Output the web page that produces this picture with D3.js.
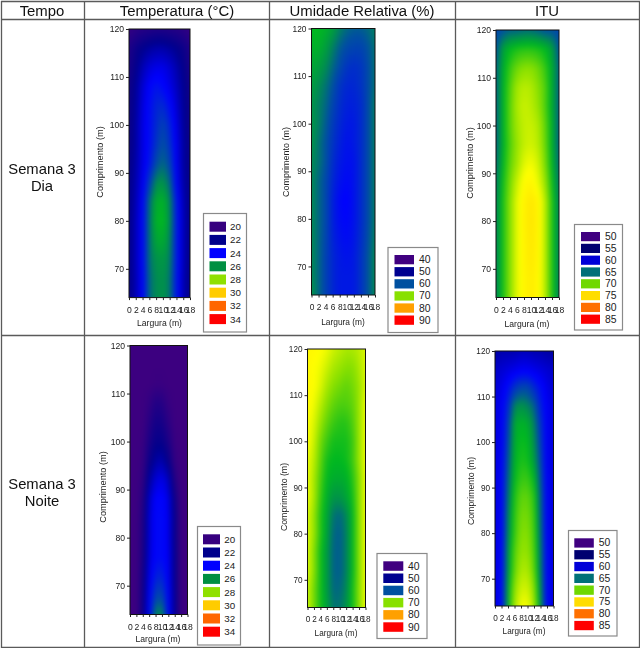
<!DOCTYPE html>
<html><head><meta charset="utf-8">
<script src="https://cdn.jsdelivr.net/npm/d3@7"></script>
<style>
html,body{margin:0;padding:0;background:#fff;}
#wrap{position:relative;width:640px;height:648px;overflow:hidden;}
canvas,svg{position:absolute;left:0;top:0;}
svg{filter:blur(0.3px);}
text{font-family:"Liberation Sans",Arial,sans-serif;}
</style></head><body><div id="wrap"><canvas id="c" width="640" height="648"></canvas><svg id="s" width="640" height="648"></svg></div>
<script>
// ---------- data ----------
const headers = ["Tempo","Temperatura (°C)","Umidade Relativa (%)","ITU"];
const rowLabels = [["Semana 3","Dia"],["Semana 3","Noite"]];
const widths = [0,2,4,6,8,10,12,14,16,18];
const lengths = [120,116,112,108,104,100,96,92,88,84,80,76,72,68,64];
const lengthTicks = [70,80,90,100,110,120];
const tempLegend = [20,22,24,26,28,30,32,34];
const rhLegend = [40,50,60,70,80,90];
const ituLegend = [50,55,60,65,70,75,80,85];
const tempLegendColors = ["#36007f","#00008c","#0000ff","#008f42","#8fe000","#ffcc00","#ff6600","#ff0000"];
const rhLegendColors = ["#400080","#000090","#0050a0","#88e000","#ffa000","#ff0000"];
const ituLegendColors = ["#400080","#000070","#0000d8","#007078","#70d800","#ffdd00","#ff7000","#ff0000"];

const tempDay = [
[20.3,20.6,20.8,20.9,21,21,20.9,20.8,20.6,20.3],
[21,21.6,22,22.3,22.5,22.5,22.3,22,21.6,21],
[21.2,21.9,22.7,23.3,23.6,23.6,23.2,22.6,21.9,21.2],
[21.4,22.2,23.2,24,24.4,24.1,23.6,22.9,22.1,21.4],
[21.5,22.3,23.4,24.2,24.7,24.8,24.2,23.2,22.2,21.5],
[21.5,22.4,23.5,24.2,24.8,25.3,24.7,23.5,22.3,21.5],
[21.6,22.4,23.5,24.2,25,25.6,25,23.7,22.4,21.6],
[21.7,22.5,23.5,24.4,25.5,25.9,25.4,23.8,22.4,21.7],
[21.8,22.6,23.7,25.2,26.3,26.4,25.9,24,22.5,21.8],
[21.8,22.7,24,25.9,26.8,26.9,26.3,24.5,22.7,21.8],
[21.8,22.8,24.1,26,26.9,27,26.4,24.6,22.8,21.8],
[21.8,22.8,24.1,26,26.7,26.8,26.3,24.6,22.8,21.8],
[21.8,22.8,24.1,26,26.4,26.5,26.2,24.6,22.8,21.8],
[21.8,22.7,24,25.9,26.3,26.4,26.1,24.5,22.7,21.8],
[21.8,22.7,24,25.9,26.3,26.4,26.1,24.5,22.7,21.8]];

const rhDay = [
[65,65,64.5,63.5,62,61,60.5,60.5,61,62],
[64.5,64.5,63.5,62,60.5,59.5,59,59,60,61.5],
[64,63.5,62.5,61,59.5,58,57.5,58,59.5,61.5],
[63.5,62.5,61.5,60,58,57,57,57.8,59.5,61.5],
[63,62,61,59.2,57.5,56.5,56.5,57.3,59.5,62],
[63,62,60.5,58.5,57,56,56,57.3,59.5,62],
[63,61.5,60,58,56.5,55.5,56,57.3,59.5,62],
[62.5,61.5,60,57.5,56,55.3,55.5,57.3,59.5,62],
[62.5,61,59.5,57,55.5,54.8,55.5,57.3,59.5,62],
[62.5,61,59.5,56.5,54.8,54.3,55.5,57.3,59.5,62],
[62.5,61,59.5,56.5,55,54.6,55.5,57.3,59.5,62],
[62.5,61,59.3,56.7,55.5,55,55.7,57.5,59.7,62.2],
[62.5,61,59,57,56,55.5,56,57.8,60,62.5],
[62.5,61,59,57,56,56,56,57.8,60,62.5],
[63,61,59,57,56,56,56,57.8,60,62.5]];

const ituDay = [
[63.5,64,64.5,64.5,64.8,64.8,64.5,64,64,63.5],
[64,66.5,67.5,68,68.2,68.2,68,67.5,66.5,64],
[64.5,67,68.5,69.5,70,70,69.5,68.5,67,64.5],
[64.5,67.2,69,70.5,71,70.8,70,69,67,64.5],
[64.5,67.2,69.2,70.7,71.3,71,70.3,69,67,64.5],
[64.5,67.2,69.2,70.5,71.2,71.3,70.8,69.3,67.2,64.5],
[64.5,67.2,69,70.3,71.2,71.5,71,69.5,67.2,64.5],
[64.8,67.4,69.3,70.5,71.8,72.2,71.5,69.8,67.4,64.8],
[65.2,67.8,69.7,71.3,72.6,72.9,72,70.4,67.8,65.2],
[65.5,68,70,71.8,73,73.6,73,71,68.2,65.5],
[65.5,68,70,71.8,73.1,73.7,73,71,68.2,65.5],
[65.5,68,70,71.8,73,73.6,73,71,68.2,65.5],
[65.5,68,70,71.8,73,73.5,72.9,71,68.2,65.5],
[65.5,68,70,71.8,72.9,73.3,72.8,71,68.2,65.5],
[65.5,68,70,71.8,72.9,73.3,72.8,71,68.2,65.5]];

const tempNight = [
[20,20,20,20,20,20,20,20,20,20],
[20,20,20,20,20,20,20,20,20,20],
[20,20,20,20,20.1,20.1,20,20,20,20],
[20,20,20,20.3,20.9,20.8,20.2,20,20,20],
[20,20,20,20.7,21.4,21.3,20.6,20,20,20],
[20,20,20.1,21.1,21.8,21.8,21.1,20.1,20,20],
[20,20,20.2,21.6,22.4,22.6,21.8,20.3,20,20],
[20,20,20.4,22.3,23.3,23.6,22.9,20.8,20,20],
[20,20,20.7,23,24,24.1,23.5,21.5,20,20],
[20,20,20.9,23.2,24.1,24.2,23.6,21.8,20,20],
[20,20,21,23.2,24.1,24.2,23.6,21.8,20,20],
[20,20,21.1,23.3,24.1,24.2,23.7,21.9,20,20],
[20,20,21.3,23.5,24.6,24.7,23.8,21.9,20,20],
[20,20,21.4,23.8,25.3,25.4,24,22,20,20],
[20,20,21.5,24,26.2,26.3,24.2,22,20,20]];

const rhNight = [
[72.5,72.5,72,71.5,70.5,70,69.5,69.5,70,71],
[72.5,72,71.5,70.5,69.5,69,68.5,68.5,69.5,71],
[72.5,72,71,69.5,68.5,68,67.5,68,69,71],
[72.5,71.5,70,68.5,67.5,67,67,67.5,69,71.5],
[72,71,69,67.5,66.5,66,66,67,69,71.5],
[72,70.5,68,66.5,65.5,65.5,65.5,66.5,69,71.5],
[71.5,70,67.5,65.5,65,65,65.3,66.5,69,71.5],
[71.5,69.5,67,65,64.3,64.3,64.5,66,68.5,71.5],
[71.5,69.5,66.5,64.5,63,63,63.8,65.5,68.5,71.5],
[71,69,66,64,61.5,61,62.3,65,68.5,71.5],
[71,69,66,63.7,61,60.5,62,65,68.5,71.5],
[71,68.5,65.5,63.3,60.8,60.5,62,65,68.5,71.5],
[71,68.5,65.5,63.3,60.8,60.5,62,65,68.5,71.5],
[70.5,68,65.5,63.3,61,61,62.3,65.5,68.5,71.5],
[70.5,68,65.5,63.7,61.5,61.5,62.8,65.5,68.5,71.5]];

const ituNight = [
[56,56.5,56.5,56.5,57,57,56.5,56.5,56,56],
[57.5,58,58.5,59,59.5,59.5,59,58.5,58,57.5],
[58,59,60.5,62.5,63.5,63.5,62,60.5,59,58],
[58.5,59.5,62,65.5,66,65.5,64.5,61.5,59.5,58.5],
[58.5,59.5,63,66.8,67.3,67,65.5,62.5,59.5,58.5],
[58.5,59.5,63.5,67,67.7,67.5,66,63,59.5,58.5],
[58.5,59.8,64,67.2,68,67.8,66.5,63.5,59.5,58.5],
[58.5,60,64.5,67.5,68.5,68.5,67.5,64,59.7,58.5],
[58.5,60,65,68,69.2,69.2,68.3,64.5,59.8,58.5],
[58.5,60,65.5,68.3,69.6,69.6,68.6,64.7,59.8,58.5],
[58.5,60,65.8,68.5,69.9,69.9,68.8,65,59.8,58.5],
[58.5,60.2,66.3,69,70.2,70.2,69,65.3,60,58.5],
[58.5,60.3,66.5,69.3,70.7,70.7,69.3,65.5,60,58.5],
[58.5,60.5,67,70,71.4,71.4,70,66,60,58.5],
[58.5,60.5,67.3,70.5,72.2,72.2,70.5,66.5,60,58.5]];

// ---------- colour ramp (shared, position in the legend's range) ----------
const rampStops = [0,.143,.286,.4,.45,.5,.571,.64,.714,.857,1];
const rampColors = ["#3c0080","#00008c","#0000ff","#0050a0","#008c50","#00b820","#88e000","#ffff00","#ffcc00","#ff6600","#ff0000"];
const ramp = d3.scaleLinear().domain(rampStops).range(rampColors).interpolate(d3.interpolateRgb).clamp(true);

// ---------- layout ----------
const colLines = [1,84,269,455,639];
const rowLines = [1,19,335,647];
const colCenters = [42,177,362,547];
const panels = [
 {grid:tempDay, leg:tempLegend, col:tempLegendColors, px:[129,190,29,297.6], box:[203.5,213.5,43,118.5], sw:[209.5,16.5,221.7,10,13.2], tx:230, lfs:9.8, xt:[159.5,326], yt:[100,162], fs:8.6},
 {grid:rhDay,   leg:rhLegend,   col:rhLegendColors,  px:[311.5,375,28.5,295], box:[388,247.5,50,85], sw:[394.5,19.5,255,9.3,12.1], tx:419, lfs:10.4, xt:[343,325], yt:[286,162], fs:8.4},
 {grid:ituDay,  leg:ituLegend,  col:ituLegendColors, px:[496,559,30,297.5], box:[574.5,224.5,48,105.5], sw:[581,19,232,9.2,11.8], tx:605, lfs:10.4, xt:[527,327], yt:[470,163], fs:8.6},
 {grid:tempNight,leg:tempLegend,col:tempLegendColors,px:[130,187.5,345.5,614.5], box:[197.5,526.5,43,118.5], sw:[203,17,534.3,10,13.2], tx:224.3, lfs:9.8, xt:[158,642], yt:[103,487], fs:8.6},
 {grid:rhNight, leg:rhLegend,   col:rhLegendColors,  px:[307.5,365.5,349,607.5], box:[377,553.5,50,85], sw:[383.3,20,561.3,9.5,12.2], tx:408, lfs:10.4, xt:[336,636], yt:[284,497], fs:8.2},
 {grid:ituNight,leg:ituLegend,  col:ituLegendColors, px:[495,553.5,351,606], box:[568.5,530.5,48.5,105.5], sw:[574.3,19.5,538.3,9.3,11.8], tx:598.7, lfs:10.4, xt:[524,634], yt:[471,491], fs:8.2}
];

const svg = d3.select("#s");
const ctx = document.getElementById("c").getContext("2d");
ctx.fillStyle="#fff"; ctx.fillRect(0,0,640,648);

// ---------- table ----------
const lineCol = "#5a5a5a";
svg.append("g").selectAll("line").data(colLines).join("line")
  .attr("x1",d=>d+.5).attr("x2",d=>d+.5).attr("y1",rowLines[0]).attr("y2",rowLines[3]+1)
  .attr("stroke",lineCol).attr("stroke-width",1.3);
svg.append("g").selectAll("line").data(rowLines).join("line")
  .attr("y1",d=>d+.5).attr("y2",d=>d+.5).attr("x1",colLines[0]).attr("x2",colLines[4]+1)
  .attr("stroke",lineCol).attr("stroke-width",1.3);
svg.append("g").selectAll("text").data(headers).join("text")
  .attr("x",(d,i)=>colCenters[i]).attr("y",15.5).attr("text-anchor","middle")
  .attr("font-size",14.9).attr("fill","#111").text(d=>d);
const rowCenters = [169,484];
rowLabels.forEach((lab,r)=>{
  svg.append("g").selectAll("text").data(lab).join("text")
    .attr("x",colCenters[0]).attr("y",(d,i)=>rowCenters[r]+5+i*16.5).attr("text-anchor","middle")
    .attr("font-size",14.8).attr("fill","#111").text(d=>d);
});

// ---------- panels ----------
panels.forEach(p=>{
  const [x0,x1,y0,y1]=p.px;
  const x=d3.scaleLinear().domain([0,18]).range([x0,x1]);
  const y=d3.scaleLinear().domain([120,64]).range([y0,y1]);
  const val=d3.scaleLinear().domain([p.leg[0],p.leg[p.leg.length-1]]).range([0,1]);
  const rev=lengths.slice().reverse();
  // heat field: grid values resolved per pixel by the scales, drawn off-screen with a margin
  const pad=8, ox=Math.floor(x0)-pad, oy=Math.floor(y0)-pad;
  const off=document.createElement("canvas");
  off.width=Math.ceil(x1)-Math.floor(x0)+2*pad; off.height=Math.ceil(y1)-Math.floor(y0)+2*pad;
  const oc=off.getContext("2d");
  for(let py=0;py<off.height;py++){
    const L=Math.max(64,Math.min(120,y.invert(oy+py+.5)));
    let j=d3.bisectLeft(rev,L); if(j<1)j=1; if(j>rev.length-1)j=rev.length-1;
    const t=(L-rev[j-1])/(rev[j]-rev[j-1]);
    const ra=p.grid[lengths.length-j], rb=p.grid[lengths.length-1-j];
    for(let px=0;px<off.width;px++){
      const W=Math.max(0,Math.min(18,x.invert(ox+px+.5)));
      let i=d3.bisectLeft(widths,W); if(i<1)i=1; if(i>widths.length-1)i=widths.length-1;
      const s=(W-widths[i-1])/(widths[i]-widths[i-1]);
      const a=ra[i-1]*(1-s)+ra[i]*s, b=rb[i-1]*(1-s)+rb[i]*s;
      oc.fillStyle=ramp(val(a*(1-t)+b*t));
      oc.fillRect(px,py,1,1);
    }
  }
  ctx.save();
  ctx.beginPath(); ctx.rect(x0,y0,x1-x0,y1-y0); ctx.clip();
  ctx.filter="blur(2.5px)";
  ctx.drawImage(off,ox,oy);
  ctx.restore();

  const g=svg.append("g");
  g.append("rect").attr("x",x0).attr("y",y0).attr("width",x1-x0).attr("height",y1-y0)
    .attr("fill","none").attr("stroke","#111").attr("stroke-width",1);
  const ax=g.append("g").attr("transform",`translate(0,${y1})`)
    .call(d3.axisBottom(x).tickValues(widths).tickSize(2.5).tickPadding(6.5).tickFormat(d3.format("d")));
  const ay=g.append("g").attr("transform",`translate(${x0},0)`)
    .call(d3.axisLeft(y).tickValues(lengthTicks).tickSize(3).tickPadding(2).tickFormat(d3.format("d")));
  [ax,ay].forEach(a=>{
    a.select(".domain").remove();
    a.selectAll("line").attr("stroke","#222");
    a.selectAll("text").attr("font-size",p.fs).attr("fill","#222")
     .style("font-family",'"Liberation Sans",Arial,sans-serif');
  });
  g.append("text").attr("x",p.xt[0]).attr("y",p.xt[1]).attr("text-anchor","middle")
    .attr("font-size",p.fs).attr("fill","#222").text("Largura (m)");
  g.append("text").attr("transform",`translate(${p.yt[0]+3},${p.yt[1]}) rotate(-90)`).attr("text-anchor","middle")
    .attr("font-size",p.fs*1.07).attr("fill","#222").text("Comprimento (m)");
  // legend
  const [bx,by,bw,bh]=p.box, [sx,sw,sy,sh,step]=p.sw;
  g.append("rect").attr("x",bx).attr("y",by).attr("width",bw).attr("height",bh)
    .attr("fill","#fff").attr("stroke","#8a8a8a").attr("stroke-width",1.2);
  g.append("g").selectAll("rect").data(p.leg).join("rect")
    .attr("x",sx).attr("y",(d,i)=>sy+i*step).attr("width",sw).attr("height",sh)
    .attr("fill",(d,i)=>p.col[i]);
  g.append("g").selectAll("text").data(p.leg).join("text")
    .attr("x",p.tx).attr("y",(d,i)=>sy+i*step+sh/2+3.5)
    .attr("font-size",p.lfs).attr("fill","#222").text(d=>d);
});
</script></body></html>
